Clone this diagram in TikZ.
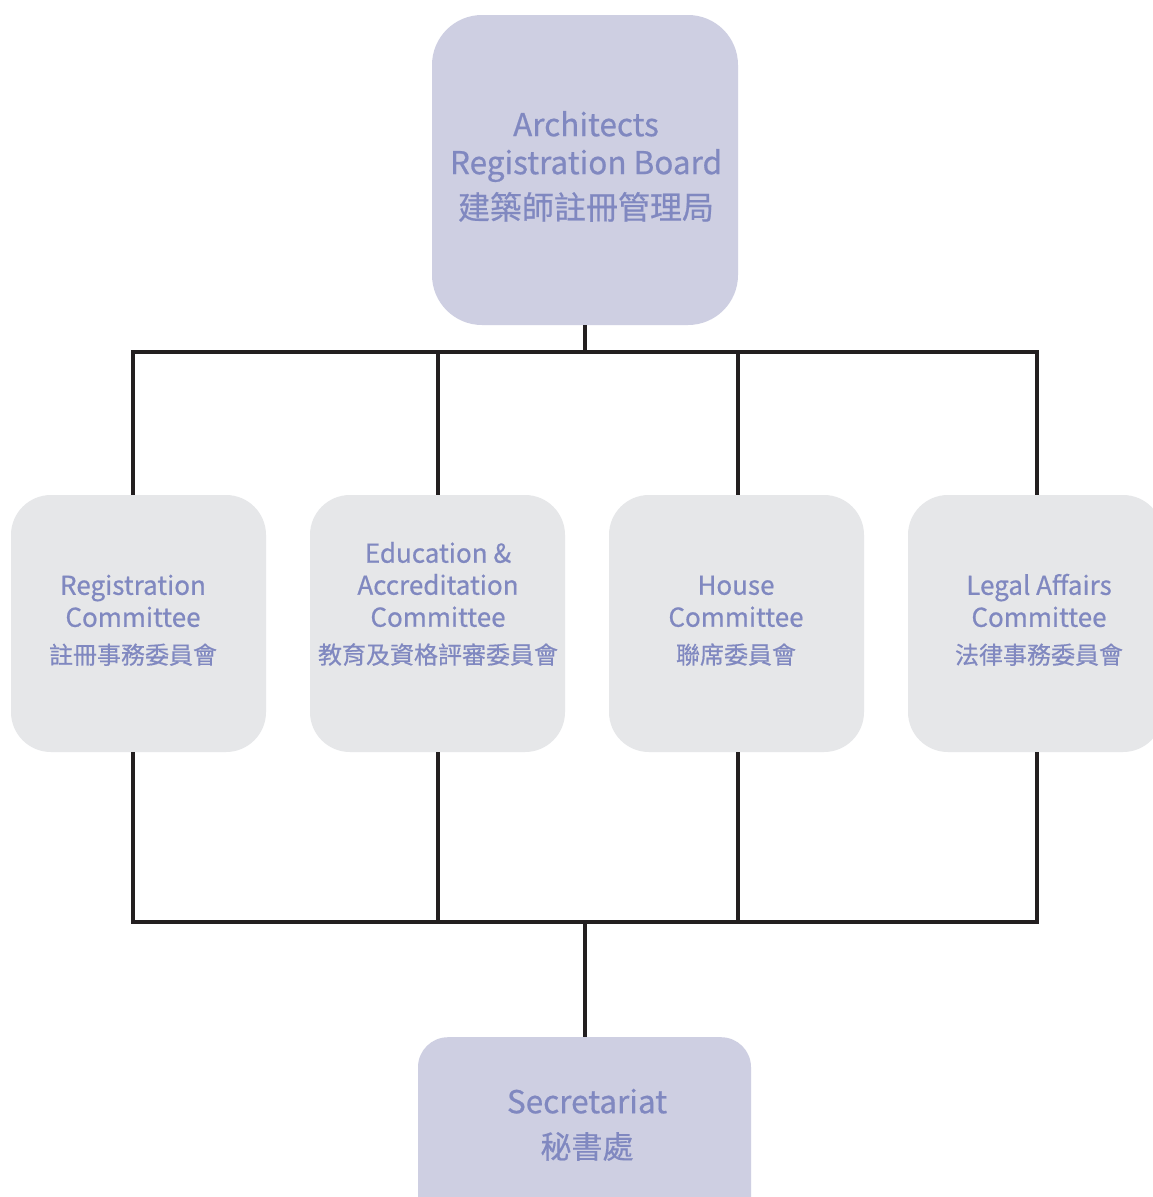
\documentclass[tikz,border=0pt]{standalone}
\usepackage{fontspec}
\setmainfont{Noto Sans CJK TC}[FakeBold=0.6]
\newfontfamily\cjk{Noto Sans CJK TC}[FakeBold=0.6]
\definecolor{boardfill}{RGB}{206,207,226}
\definecolor{comfill}{RGB}{230,231,233}
\definecolor{txt}{RGB}{128,136,192}
\definecolor{ln}{RGB}{35,31,32}
\begin{document}
\begin{tikzpicture}[x=1pt,y=-1pt,
  every node/.style={inner sep=0pt, text=txt, align=center},
  board/.style={fill=boardfill, rounded corners=50pt, minimum width=306pt, minimum height=310pt},
  com/.style={fill=comfill, rounded corners=40pt, minimum width=255pt, minimum height=257pt},
  sec/.style={fill=boardfill, rounded corners=30pt, minimum width=333pt, minimum height=200pt},
  bigtext/.style={anchor=south, font=\fontsize{31.5}{38}\selectfont},
  comtext/.style={anchor=south, font=\fontsize{26}{32}\selectfont},
  conn/.style={draw=ln, line width=4pt}]
\useasboundingbox (0,0) rectangle (1153,1197);
\clip (0,0) rectangle (1153,1197);
\fill[white] (0,0) rectangle (1153,1197);
\node[board] (board) at (585,170) {};
\node[bigtext] (boardtext) at (586,222) {Architects\\Registration Board\\[7pt]\fontsize{32}{38}\selectfont\cjk 建築師註冊管理局};
\node[com] (c1) at (138.5,623.5) {};
\node[com] (c2) at (437.5,623.5) {};
\node[com] (c3) at (736.5,623.5) {};
\node[com] (c4) at (1035.5,623.5) {};
\node[comtext] (c1text) at (133,666) {Registration\\Committee\\[5pt]\fontsize{24}{28}\selectfont\cjk 註冊事務委員會};
\node[comtext] (c2text) at (438,666) {Education \&\\Accreditation\\Committee\\[5pt]\fontsize{24}{28}\selectfont\cjk 教育及資格評審委員會};
\node[comtext] (c3text) at (736,666) {House\\Committee\\[5pt]\fontsize{24}{28}\selectfont\cjk 聯席委員會};
\node[comtext] (c4text) at (1039,666) {Legal Affairs\\Committee\\[5pt]\fontsize{24}{28}\selectfont\cjk 法律事務委員會};
\node[sec, anchor=north] (sec) at (584.5,1037) {};
\node[bigtext] (sectext) at (587,1161) {Secretariat\\[7pt]\fontsize{31}{38}\selectfont\cjk 秘書處};
\coordinate (tb) at (585,352);
\coordinate (bb) at (585,922);
\coordinate (t1) at (133,352);
\coordinate (t2) at (438,352);
\coordinate (t3) at (738,352);
\coordinate (t4) at (1037,352);
\coordinate (b1) at (133,922);
\coordinate (b2) at (438,922);
\coordinate (b3) at (738,922);
\coordinate (b4) at (1037,922);
\draw[conn] (tb |- board.south) -- (tb);
\draw[conn] (t1 |- c1.north) -- (t1) -- (t4) -- (t4 |- c4.north);
\draw[conn] (t2) -- (t2 |- c2.north);
\draw[conn] (t3) -- (t3 |- c3.north);
\draw[conn] (b1 |- c1.south) -- (b1) -- (b4) -- (b4 |- c4.south);
\draw[conn] (b2 |- c2.south) -- (b2);
\draw[conn] (b3 |- c3.south) -- (b3);
\draw[conn] (bb) -- (bb |- sec.north);
\end{tikzpicture}
\end{document}
